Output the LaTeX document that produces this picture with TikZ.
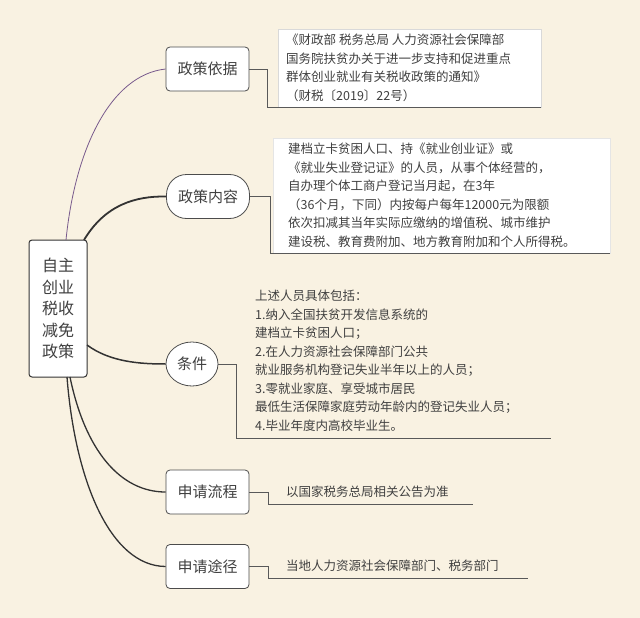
\documentclass[tikz,border=0pt]{standalone}
\usepackage{fontspec}
\usetikzlibrary{shapes.geometric}
\setmainfont{Noto Sans CJK SC}
\begin{document}
\begin{tikzpicture}[x=1pt,y=-1pt,
  every node/.style={text=black!75},
  nbox/.style={draw=black!70,fill=white,rounded corners=4pt,line width=0.8pt,minimum width=83pt,minimum height=44pt,font=\fontsize{15}{15}\selectfont},
  txt/.style={anchor=north west,align=left,inner sep=0pt,font=\fontsize{12.5}{18.5}\selectfont},
  conn/.style={draw=black!65,line width=0.7pt},
  branch/.style={draw=black!80,line width=1.3pt}]
\fill[fill={rgb,255:red,249;green,242;blue,226}] (0,0) rectangle (640,618);
\useasboundingbox (0,0) rectangle (640,618);
% root
\node[draw=black!80,fill=white,rounded corners=3pt,line width=1pt,minimum width=58pt,minimum height=137pt,align=center,font=\fontsize{16}{21.5}\selectfont] (root) at (58,308.5) {自主\\创业\\税收\\减免\\政策};
% level 1
\node[nbox] (a) at (207.5,69) {政策依据};
\node[nbox,rounded corners=20pt] (b) at (208,196.5) {政策内容};
\node[draw=black!70,fill=white,ellipse,line width=0.8pt,minimum width=52pt,minimum height=44pt,inner sep=0pt,font=\fontsize{15}{15}\selectfont] (c) at (192,364) {条件};
\node[nbox] (d) at (207.5,492) {申请流程};
\node[nbox] (e) at (207.5,566.5) {申请途径};
% branches
\draw[draw={rgb,255:red,120;green,90;blue,140},line width=0.8pt] (66,240) .. controls (75,150) and (110,75) .. (a.west);
\draw[branch,line width=1.8pt] (84,240) .. controls (105,205) and (135,196) .. (b.west);
\draw[branch,line width=1.5pt] (87,345) .. controls (110,362) and (140,364) .. (c.west);
\draw[branch] (70,377) .. controls (85,450) and (120,492) .. (d.west);
\draw[branch] (67,377) .. controls (75,480) and (110,566) .. (e.west);
% text boxes
\node[fill=white,draw=black!15,minimum width=263pt,minimum height=78pt,anchor=north west,inner sep=0pt] (abox) at (278,29) {};
\node[txt] (atext) at (286,34) {《财政部 税务总局 人力资源社会保障部\\国务院扶贫办关于进一步支持和促进重点\\群体创业就业有关税收政策的通知》\\（财税〔2019〕22号）};
\node[fill=white,draw=black!10,minimum width=337pt,minimum height=115pt,anchor=north west,inner sep=0pt] (bbox) at (273,138) {};
\node[txt] (btext) at (288,143) {建档立卡贫困人口、持《就业创业证》或\\《就业失业登记证》的人员，从事个体经营的，\\自办理个体工商户登记当月起，在3年\\（36个月，下同）内按每户每年12000元为限额\\依次扣减其当年实际应缴纳的增值税、城市维护\\建设税、教育费附加、地方教育附加和个人所得税。};
\node[txt] (ctext) at (255,290) {上述人员具体包括：\\1.纳入全国扶贫开发信息系统的\\建档立卡贫困人口；\\2.在人力资源社会保障部门公共\\就业服务机构登记失业半年以上的人员；\\3.零就业家庭、享受城市居民\\最低生活保障家庭劳动年龄内的登记失业人员；\\4.毕业年度内高校毕业生。};
\node[txt,anchor=west] (dtext) at (286,492) {以国家税务总局相关公告为准};
\node[txt,anchor=west] (etext) at (286,566) {当地人力资源社会保障部门、税务部门};
% connectors
\coordinate (aend) at (541,107);
\coordinate (bend) at (610,253);
\coordinate (cend) at (551,438);
\coordinate (dend) at (473,504);
\coordinate (eend) at (528,578);
\draw[conn] (a.east) -- (267,69) -- (267,107) -- (aend);
\draw[conn] (b.east) -- (270,196.5) -- (270,253) -- (bend);
\draw[conn] (c.east) -- (236,364) -- (236,438) -- (cend);
\draw[conn] (d.east) -- (268,492) -- (268,504) -- (dend);
\draw[conn] (e.east) -- (268,566.5) -- (268,578) -- (eend);
\end{tikzpicture}
\end{document}
